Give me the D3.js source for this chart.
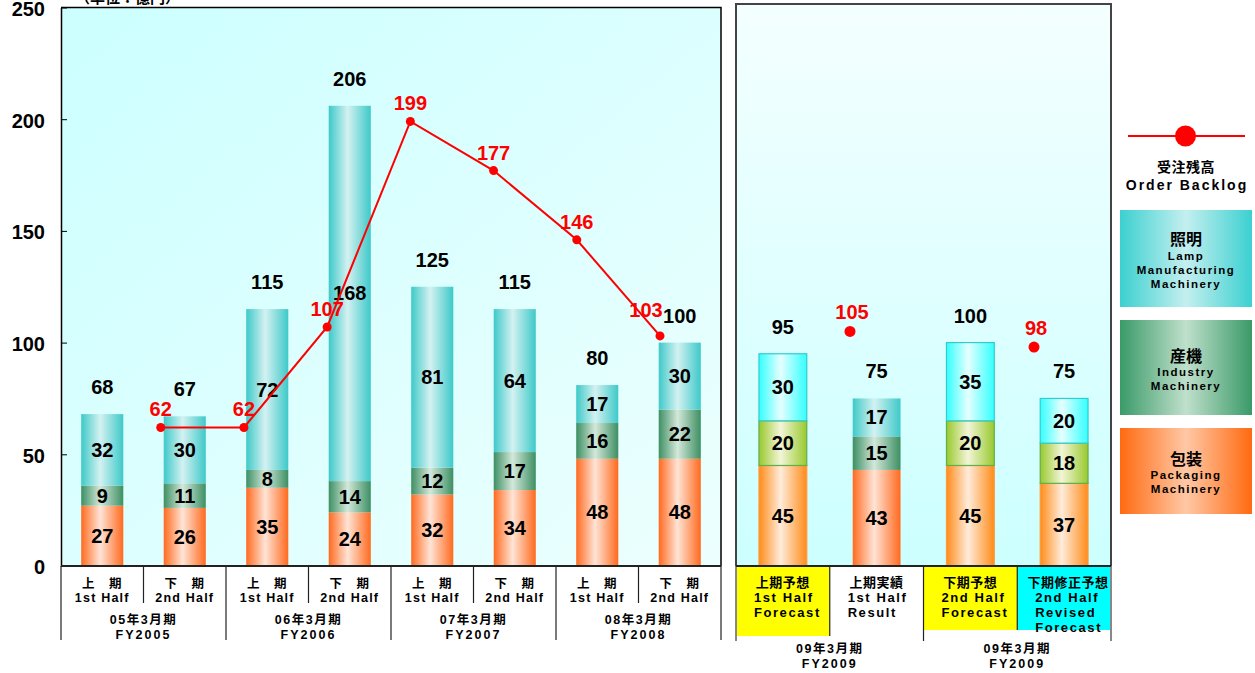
<!DOCTYPE html>
<html><head><meta charset="utf-8">
<script src="https://cdn.jsdelivr.net/npm/d3@7"></script>
<style>
body{margin:0;background:#fff;}
svg{display:block;}
text{font-family:"Liberation Sans",Arial,"Noto Sans CJK JP",sans-serif;font-weight:bold;}
</style>
</head><body>
<svg id="chart" width="1255" height="673"></svg>
<script>
// ---------- data ----------
const leftSubLabels = [["上　期","1st Half"],["下　期","2nd Half"],["上　期","1st Half"],["下　期","2nd Half"],
                       ["上　期","1st Half"],["下　期","2nd Half"],["上　期","1st Half"],["下　期","2nd Half"]];
const leftGroups = [["05年3月期","FY2005"],["06年3月期","FY2006"],["07年3月期","FY2007"],["08年3月期","FY2008"]];
const leftPackaging = [27,26,35,24,32,34,48,48];
const leftIndustry  = [9,11,8,14,12,17,16,22];
const leftLamp      = [32,30,72,168,81,64,17,30];
const leftTotals    = [68,67,115,206,125,115,80,100];
const leftBacklog   = [null,62,62,107,199,177,146,103];

const rightSubLabels = [["上期予想","1st Half","Forecast"],["上期実績","1st Half","Result"],
                        ["下期予想","2nd Half","Forecast"],["下期修正予想","2nd Half","Revised","Forecast"]];
const rightGroups = [["09年3月期","FY2009"],["09年3月期","FY2009"]];
const rightPackaging = [45,43,45,37];
const rightIndustry  = [20,15,20,18];
const rightLamp      = [30,17,35,20];
const rightTotals    = [95,75,100,75];
const rightBacklog   = [null,105,null,98];
const rightIsForecast = [true,false,true,true];
const rightLabelBoxes = ["#ffff00",null,"#ffff00","#00ffff"];

const yTicks = [0,50,100,150,200,250];
const seriesKeys = ["packaging","industry","lamp"];
const legendBacklog = ["受注残高","Order Backlog"];
const legendSeries = [
  {key:"lamp", lines:["照明","Lamp","Manufacturing","Machinery"]},
  {key:"industry", lines:["産機","Industry","Machinery"]},
  {key:"packaging", lines:["包装","Packaging","Machinery"]}
];

// ---------- setup ----------
const svg = d3.select("#chart");
const defs = svg.append("defs");
function hGrad(id, edge, mid, midPos){
  const g = defs.append("linearGradient").attr("id",id).attr("x1","0").attr("x2","1").attr("y1","0").attr("y2","0");
  g.append("stop").attr("offset","0").attr("stop-color",edge);
  g.append("stop").attr("offset",midPos||"0.45").attr("stop-color",mid);
  g.append("stop").attr("offset","1").attr("stop-color",edge);
}
hGrad("g-packaging","#ff6a1f","#ffe4d6");
hGrad("g-industry","#3d8f63","#d3e8da");
hGrad("g-lamp","#3ec9c9","#d4f1f1");
hGrad("f-packaging","#ff8c1a","#ffecdb");
hGrad("f-industry","#99c92e","#f3f5d8");
hGrad("f-lamp","#33ffff","#e6ffff");
hGrad("l-lamp","#3cd0d0","#c4efef","0.5");
hGrad("l-industry","#3a9a68","#c0e0cc","0.5");
hGrad("l-packaging","#ff6a10","#ffc8a6","0.5");
const fBorder = {packaging:"#ff9a3c", industry:"#5faf4a", lamp:"#33cccc"};

const bgL = defs.append("linearGradient").attr("id","bgL").attr("x1","0").attr("y1","0").attr("x2","1").attr("y2","1");
bgL.append("stop").attr("offset","0").attr("stop-color","#ccffff");
bgL.append("stop").attr("offset","1").attr("stop-color","#ecfffe");
const bgR = defs.append("linearGradient").attr("id","bgR").attr("x1","0").attr("y1","0").attr("x2","0").attr("y2","1");
bgR.append("stop").attr("offset","0").attr("stop-color","#f4ffff");
bgR.append("stop").attr("offset","1").attr("stop-color","#ccffff");

const y = d3.scaleLinear().domain([0,250]).range([566,7.5]);
const xL = d3.scaleBand().domain(d3.range(leftTotals.length)).range([61,721]);
const xR = d3.scaleBand().domain(d3.range(rightTotals.length)).range([736,1111]);
// the backlog line sits on its own (secondary) category axis
const xLineL = d3.scalePoint().domain(d3.range(leftBacklog.length)).range([77.5,660]);
const xLineR = d3.scalePoint().domain(d3.range(rightBacklog.length)).range([758,1034]);

// unit label (cut at top)
svg.append("text").attr("x",75).attr("y",3).attr("font-size",15).text("（単位：億円）");

// panel backgrounds
svg.append("rect").attr("x",61).attr("y",y(250)).attr("width",660).attr("height",y(0)-y(250)).attr("fill","url(#bgL)");
svg.append("path").attr("d",`M61,${y(250)}H721V566`).attr("fill","none").attr("stroke","#000").attr("stroke-width",1.5);
svg.append("rect").attr("x",736).attr("y",4).attr("width",375).attr("height",562).attr("fill","url(#bgR)")
  .attr("stroke","#444").attr("stroke-width",2);

// y axis
const yAxis = svg.append("g").attr("transform","translate(61,0)")
  .call(d3.axisLeft(y).tickValues(yTicks).tickSize(-6).tickSizeOuter(0).tickPadding(16));
yAxis.select(".domain").attr("stroke","#000").attr("stroke-width",1.5);
yAxis.selectAll(".tick line").attr("stroke","#000");
yAxis.selectAll(".tick text").attr("font-size",20).attr("font-family",'"Liberation Sans",Arial,sans-serif')
  .attr("font-weight","bold").attr("fill","#000").attr("dy","0.39em");

// ---------- bars ----------
function drawPanel(x, pack, ind, lamp, totals, forecastFlags){
  const rows = pack.map((p,i)=>({i, packaging:p, industry:ind[i], lamp:lamp[i]}));
  const stacked = d3.stack().keys(seriesKeys)(rows);
  const bw = x.bandwidth()*0.51;
  const g = svg.append("g");
  stacked.forEach(layer=>{
    layer.forEach((d,j)=>{
      const fc = forecastFlags && forecastFlags[j];
      const cx = x(j)+x.bandwidth()/2;
      g.append("rect").attr("x",cx-bw/2).attr("width",bw)
        .attr("y",y(d[1])).attr("height",y(d[0])-y(d[1]))
        .attr("fill",`url(#${fc?"f":"g"}-${layer.key})`)
        .attr("stroke",fc?fBorder[layer.key]:"none").attr("stroke-width",fc?1.2:0);
      g.append("text").attr("x",cx).attr("y",y((d[0]+d[1])/2)+7)
        .attr("text-anchor","middle").attr("font-size",20).attr("fill","#000").text(d[1]-d[0]);
    });
  });
  totals.forEach((t,j)=>{
    const top = stacked[stacked.length-1][j][1];
    g.append("text").attr("x",x(j)+x.bandwidth()/2).attr("y",y(top)-20)
      .attr("text-anchor","middle").attr("font-size",20).attr("fill","#000").text(t);
  });
}
drawPanel(xL, leftPackaging, leftIndustry, leftLamp, leftTotals, null);
drawPanel(xR, rightPackaging, rightIndustry, rightLamp, rightTotals, rightIsForecast);

// ---------- backlog ----------
const lineGen = d3.line().defined(d=>d.v!=null).x(d=>xLineL(d.i)).y(d=>y(d.v));
const lb = leftBacklog.map((v,i)=>({v,i}));
svg.append("path").datum(lb).attr("d",lineGen).attr("fill","none").attr("stroke","#ff0000").attr("stroke-width",2);
lb.filter(d=>d.v!=null).forEach(d=>{
  const last = d.i===leftBacklog.length-1;
  svg.append("circle").attr("cx",xLineL(d.i)).attr("cy",y(d.v)).attr("r",4.5).attr("fill","#ff0000");
  svg.append("text").attr("x",xLineL(d.i)+(last?-14:0)).attr("y",y(d.v)-(last?19:11)).attr("text-anchor","middle")
    .attr("font-size",20).attr("fill","#ff0000").text(d.v);
});
rightBacklog.forEach((v,i)=>{
  if(v==null) return;
  svg.append("circle").attr("cx",xLineR(i)).attr("cy",y(v)).attr("r",5.5).attr("fill","#ff0000");
  svg.append("text").attr("x",xLineR(i)+2).attr("y",y(v)-12).attr("text-anchor","middle")
    .attr("font-size",20).attr("fill","#ff0000").text(v);
});

// ---------- category axes ----------
const cat = svg.append("g");
// left
leftSubLabels.forEach((lines,i)=>{
  const cx = xL(i)+xL.bandwidth()/2;
  cat.append("text").attr("x",cx).attr("y",588).attr("text-anchor","middle").attr("font-size",12.5)
    .attr("letter-spacing",1).text(lines[0]);
  cat.append("text").attr("x",cx).attr("y",602).attr("text-anchor","middle").attr("font-size",12.5)
    .attr("letter-spacing",1.2).text(lines[1]);
});
leftGroups.forEach((lines,k)=>{
  const cx = xL(2*k)+xL.step();
  cat.append("text").attr("x",cx).attr("y",624).attr("text-anchor","middle").attr("font-size",12.5)
    .attr("letter-spacing",1.5).text(lines[0]);
  cat.append("text").attr("x",cx).attr("y",639).attr("text-anchor","middle").attr("font-size",12.5)
    .attr("letter-spacing",2).text(lines[1]);
});
d3.range(leftTotals.length+1).forEach(i=>{
  const xx = i<leftTotals.length ? xL(i) : 721;
  cat.append("line").attr("x1",xx).attr("x2",xx).attr("y1",566).attr("y2",i%2===0?640:603)
    .attr("stroke","#222").attr("stroke-width",1.2);
});
// right label boxes
rightLabelBoxes.forEach((c,i)=>{
  if(!c) return;
  cat.append("rect").attr("x",xR(i)).attr("y",567).attr("width",xR.bandwidth())
    .attr("height",i===0?69:63).attr("fill",c);
});
rightSubLabels.forEach((lines,i)=>{
  const cx = xR(i)+xR.bandwidth()/2;
  lines.forEach((t,k)=>{
    const jp = k===0;
    cat.append("text").attr("x",jp?cx+(i===3?4:0):cx-29).attr("y",587+k*15)
      .attr("text-anchor",jp?"middle":"start").attr("font-size",13).attr("letter-spacing",jp?0.5:1.6).text(t);
  });
});
rightGroups.forEach((lines,k)=>{
  const cx = xR(2*k)+xR.step();
  cat.append("text").attr("x",cx).attr("y",653).attr("text-anchor","middle").attr("font-size",12.5)
    .attr("letter-spacing",1.5).text(lines[0]);
  cat.append("text").attr("x",cx).attr("y",668).attr("text-anchor","middle").attr("font-size",12.5)
    .attr("letter-spacing",2).text(lines[1]);
});
d3.range(rightTotals.length+1).forEach(i=>{
  const xx = i<rightTotals.length ? xR(i) : 1111;
  cat.append("line").attr("x1",xx).attr("x2",xx).attr("y1",566).attr("y2",i%2===0?641:(i===1?636:630))
    .attr("stroke",i===0||i===4?"#888":"#222").attr("stroke-width",i===0||i===4?2:1.2);
});
// baselines
cat.append("line").attr("x1",61).attr("x2",721).attr("y1",566).attr("y2",566).attr("stroke","#222").attr("stroke-width",2);
cat.append("line").attr("x1",736).attr("x2",1111).attr("y1",566).attr("y2",566).attr("stroke","#222").attr("stroke-width",2);

// ---------- legend ----------
const lg = svg.append("g");
lg.append("line").attr("x1",1128).attr("x2",1245).attr("y1",136).attr("y2",136).attr("stroke","#ff0000").attr("stroke-width",2);
lg.append("circle").attr("cx",1185.5).attr("cy",136).attr("r",10.5).attr("fill","#ff0000");
lg.append("text").attr("x",1186).attr("y",172).attr("text-anchor","middle").attr("font-size",14).attr("letter-spacing",0.5).text(legendBacklog[0]);
lg.append("text").attr("x",1187).attr("y",190).attr("text-anchor","middle").attr("font-size",14).attr("letter-spacing",2).text(legendBacklog[1]);
const boxes = [{y:210,h:97,ty:[245,260,274,288]},{y:320,h:95,ty:[362,376,390]},{y:428,h:86,ty:[465,479,493]}];
legendSeries.forEach((s,k)=>{
  const b = boxes[k];
  lg.append("rect").attr("x",1120).attr("y",b.y).attr("width",132).attr("height",b.h).attr("fill",`url(#l-${s.key})`);
  s.lines.forEach((t,j)=>{
    lg.append("text").attr("x",1186).attr("y",b.ty[j]).attr("text-anchor","middle")
      .attr("font-size",j===0?16:11.5).attr("letter-spacing",j===0?0:1.5).text(t);
  });
});
</script>
</body></html>
